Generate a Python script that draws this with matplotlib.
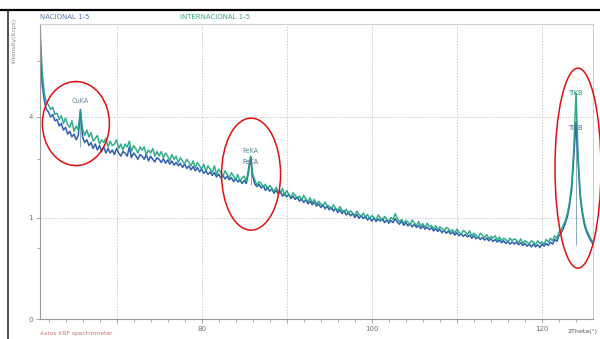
import numpy as np
import matplotlib
matplotlib.use("Agg")
import matplotlib.pyplot as plt
from matplotlib.patches import Ellipse
from matplotlib.lines import Line2D
from matplotlib.ticker import FixedLocator, FuncFormatter

# scan starts at 61 deg 2theta, one reading every 0.25 deg
TWO_THETA_START = 61.0
TWO_THETA_STEP = 0.25

# intensities (Kcps)
INTERNACIONAL = [
    8.4, 6.0, 5.0, 4.6, 4.5, 4.3, 4.4, 4.1,
    4.15, 3.9, 4.05, 3.75, 3.95, 3.7, 3.6, 3.85,
    3.45, 3.65, 3.5, 4.25, 3.55, 3.3, 3.5, 3.25,
    3.4, 3.1, 3.2, 3.3, 3.0, 3.15, 3.05, 3.2,
    2.9, 3.1, 2.95, 3.0, 3.15, 2.85, 3.0, 2.8,
    3.0, 2.9, 3.1, 2.75, 2.95, 2.85, 2.7, 2.9,
    2.8, 2.9, 2.65, 2.8, 2.7, 2.85, 2.6, 2.75,
    2.6, 2.75, 2.55, 2.7, 2.6, 2.45, 2.65, 2.5,
    2.6, 2.4, 2.55, 2.45, 2.35, 2.5, 2.4, 2.3,
    2.45, 2.25, 2.4, 2.3, 2.2, 2.35, 2.15, 2.3,
    2.2, 2.1, 2.3, 2.05, 2.2, 2.1, 2.0, 2.15,
    2.05, 1.95, 2.1, 2.0, 1.9, 2.05, 1.85, 1.95,
    2.0, 1.85, 2.2, 2.6, 2.05, 1.9, 1.75, 1.85,
    1.8, 1.7, 1.78, 1.65, 1.75, 1.68, 1.58, 1.7,
    1.6, 1.55, 1.67, 1.5, 1.62, 1.52, 1.45, 1.56,
    1.5, 1.42, 1.48, 1.38, 1.5, 1.4, 1.35, 1.44,
    1.32, 1.4, 1.28, 1.36, 1.3, 1.24, 1.34, 1.26,
    1.25, 1.18, 1.28, 1.2, 1.15, 1.24, 1.16, 1.12,
    1.18, 1.08, 1.15, 1.1, 1.05, 1.14, 1.07, 1.03,
    1.1, 1.02, 1.07, 0.99, 1.05, 1.01, 0.96, 1.06,
    1.0, 0.95, 1.03, 0.98, 0.93, 1.01, 0.97, 1.09,
    0.99, 0.93, 0.97, 0.9, 0.95, 0.92, 0.87, 0.96,
    0.9, 0.86, 0.93, 0.85, 0.89, 0.82, 0.9, 0.84,
    0.86, 0.8, 0.85, 0.79, 0.83, 0.81, 0.76, 0.82,
    0.8, 0.75, 0.78, 0.72, 0.79, 0.74, 0.7, 0.77,
    0.74, 0.7, 0.76, 0.68, 0.72, 0.69, 0.65, 0.72,
    0.69, 0.65, 0.7, 0.63, 0.67, 0.64, 0.68, 0.61,
    0.66, 0.6, 0.64, 0.62, 0.58, 0.64, 0.6, 0.63,
    0.61, 0.57, 0.63, 0.56, 0.6, 0.58, 0.55, 0.6,
    0.58, 0.54, 0.6, 0.56, 0.58, 0.55, 0.62, 0.58,
    0.64, 0.6, 0.68, 0.63, 0.74, 0.78, 0.86, 0.95,
    1.1, 1.35, 1.8, 2.9, 5.0, 2.6, 1.55, 1.15,
    0.92, 0.78, 0.7, 0.63, 0.58,
]

NACIONAL = [
    7.8, 5.4, 4.7, 4.3, 4.2, 4.0, 4.1, 3.85,
    3.9, 3.65, 3.75, 3.5, 3.6, 3.35, 3.45, 3.25,
    3.35, 3.15, 3.3, 4.3, 3.25, 3.05, 3.15, 2.95,
    3.05, 2.85, 3.0, 2.8, 2.95, 2.75, 2.9, 2.7,
    2.85, 2.7, 2.8, 2.65, 2.85, 2.7, 2.6, 2.75,
    2.7, 2.6, 2.9, 2.55, 2.7, 2.62, 2.5, 2.65,
    2.6, 2.5, 2.65, 2.45, 2.6, 2.5, 2.42, 2.55,
    2.5, 2.4, 2.52, 2.38, 2.48, 2.35, 2.45, 2.32,
    2.4, 2.3, 2.38, 2.25, 2.35, 2.22, 2.3, 2.18,
    2.28, 2.15, 2.25, 2.12, 2.2, 2.08, 2.15, 2.05,
    2.12, 2.02, 2.1, 1.98, 2.06, 1.95, 2.02, 1.92,
    2.0, 1.9, 1.96, 1.85, 1.93, 1.84, 1.9, 1.8,
    1.88, 1.8, 2.1, 2.55, 2.0, 1.78, 1.72, 1.78,
    1.68, 1.74, 1.62, 1.7, 1.6, 1.66, 1.55, 1.62,
    1.54, 1.6, 1.48, 1.55, 1.46, 1.52, 1.42, 1.48,
    1.4, 1.46, 1.36, 1.42, 1.33, 1.4, 1.3, 1.36,
    1.28, 1.34, 1.25, 1.3, 1.22, 1.28, 1.19, 1.25,
    1.17, 1.22, 1.14, 1.2, 1.11, 1.17, 1.09, 1.15,
    1.06, 1.12, 1.04, 1.09, 1.01, 1.07, 0.99, 1.05,
    0.99, 1.03, 0.96, 1.01, 0.94, 1.0, 0.93, 0.98,
    0.94, 0.99, 0.91, 0.96, 0.9, 0.95, 0.91, 0.99,
    0.92, 0.88, 0.94, 0.86, 0.91, 0.85, 0.89, 0.83,
    0.88, 0.82, 0.86, 0.8, 0.85, 0.79, 0.83, 0.78,
    0.82, 0.76, 0.8, 0.75, 0.79, 0.73, 0.77, 0.72,
    0.76, 0.71, 0.74, 0.69, 0.73, 0.68, 0.71, 0.67,
    0.7, 0.66, 0.69, 0.64, 0.68, 0.63, 0.66, 0.62,
    0.65, 0.61, 0.64, 0.6, 0.63, 0.59, 0.62, 0.58,
    0.61, 0.57, 0.6, 0.56, 0.59, 0.55, 0.58, 0.55,
    0.58, 0.54, 0.57, 0.53, 0.56, 0.52, 0.55, 0.51,
    0.55, 0.51, 0.54, 0.5, 0.55, 0.52, 0.56, 0.53,
    0.58, 0.55, 0.62, 0.59, 0.68, 0.72, 0.8, 0.9,
    1.03, 1.28, 1.65, 2.6, 3.8, 2.4, 1.45, 1.08,
    0.86, 0.74, 0.66, 0.6, 0.55,
]

PEAK_NAMES = ["CuKA", "FeKA", "TiKB"]
PEAK_2THETA = [65.75, 85.75, 124.0]
PEAK_BASE = [2.9, 1.75, 0.54]

X_TICKS = [70, 80, 90, 100, 110, 120]
X_LABELED = [80, 100, 120]
Y_TICKS = [0, 1, 4]
Y_MINOR = [0.5, 2.5, 6.5]

BLUE = "#2f5fae"
GREEN = "#1fa382"
GRAY = "#8a8a8a"


def fwd(v):
    return np.sqrt(np.clip(v, 0, None))


def inv(v):
    return np.square(v)


two_theta = TWO_THETA_START + TWO_THETA_STEP * np.arange(len(NACIONAL))
nac = np.array(NACIONAL)
inter = np.array(INTERNACIONAL)

fig = plt.figure(figsize=(6, 3.39), dpi=100)
ax = fig.add_axes([40 / 600, 1 - 319 / 339, 553 / 600, 295 / 339])
ax.set_yscale("function", functions=(fwd, inv))

ax.plot(two_theta, nac, color=BLUE, lw=1.1)
ax.plot(two_theta, inter, color=GREEN, lw=1.1, alpha=0.9)

ax.set_xlim(61.0, 126.0)
ax.set_ylim(0, 8.53)

ax.xaxis.set_major_locator(FixedLocator(X_TICKS))
ax.xaxis.set_minor_locator(FixedLocator(np.arange(62, 126, 2)))
ax.xaxis.set_major_formatter(FuncFormatter(lambda v, p: "%d" % v if int(round(v)) in X_LABELED else ""))
ax.yaxis.set_major_locator(FixedLocator(Y_TICKS))
ax.yaxis.set_minor_locator(FixedLocator(Y_MINOR))
ax.yaxis.set_major_formatter(FuncFormatter(lambda v, p: "%d" % v))
ax.tick_params(which="both", colors="#9a9a9a", labelcolor="#707070", labelsize=5, length=3, width=0.6, pad=2)
ax.tick_params(which="minor", length=2)

for xv in X_TICKS:
    ax.axvline(xv, color="#c8c8c8", lw=0.7, ls=(0, (1.5, 1.5)), zorder=0)
for yv in Y_TICKS[1:]:
    ax.axhline(yv, color="#c8c8c8", lw=0.7, ls=(0, (1.5, 1.5)), zorder=0)

for side in ["top", "right"]:
    ax.spines[side].set_color("#cfcfcf")
for side in ["left", "bottom"]:
    ax.spines[side].set_color("#9a9a9a")
for sp in ax.spines.values():
    sp.set_linewidth(0.8)

# peak markers and labels
for name, px, base in zip(PEAK_NAMES, PEAK_2THETA, PEAK_BASE):
    i = int(round((px - TWO_THETA_START) / TWO_THETA_STEP))
    top_g, top_b = inter[i], nac[i]
    ax.vlines(px, base, max(top_g, top_b), color="#5f8aa0", lw=0.5, zorder=1)
    if name == "CuKA":
        ax.annotate(name, (px, max(top_g, top_b)), xytext=(0, 6), textcoords="offset points",
                    ha="center", va="center", fontsize=4.8, color="#6a86a6")
    elif name == "FeKA":
        ax.annotate(name, (px, top_g), xytext=(0, 4), textcoords="offset points",
                    ha="center", va="center", fontsize=4.8, color="#4f8f98")
        ax.annotate(name, (px, top_b), xytext=(0, -3), textcoords="offset points",
                    ha="center", va="center", fontsize=4.8, color="#4a6f98")
    else:
        ax.annotate(name, (px, top_g), xytext=(0, 0), textcoords="offset points",
                    ha="center", va="center", fontsize=4.8, color="#2a9a80")
        ax.annotate(name, (px, top_b), xytext=(0, -4), textcoords="offset points",
                    ha="center", va="center", fontsize=4.8, color="#4a6f88")

# red circles around the peaks (pixel offsets / sizes as in the scan)
ellipse_geo = [(-4.5, -14, 67, 84), (0.5, -18, 59, 112), (2, -75, 46, 200)]
to_fig = fig.transFigure.inverted()
for px, (dx, dy, w, h) in zip(PEAK_2THETA, ellipse_geo):
    i = int(round((px - TWO_THETA_START) / TWO_THETA_STEP))
    disp = ax.transData.transform((px, max(inter[i], nac[i])))
    cx, cy = to_fig.transform((disp[0] + dx, disp[1] + dy))
    fig.add_artist(Ellipse((cx, cy), w / 600, h / 339, transform=fig.transFigure,
                           fill=False, edgecolor="#e01010", lw=1.1, zorder=5))

# header / footer text
fig.text(40 / 600, 1 - 17 / 339, "NACIONAL 1-5", fontsize=5, color="#5a78a8", va="center")
fig.text(180 / 600, 1 - 17 / 339, "INTERNACIONAL 1-5", fontsize=5, color="#3aa88a", va="center")
fig.text(14 / 600, 1 - 40 / 339, "Intensity(Kcps)", fontsize=4.3, color=GRAY, rotation=90,
         ha="center", va="center")
fig.text(40 / 600, 1 - 333 / 339, "Axios XRF spectrometer", fontsize=4.3, color="#d07070", va="center")
fig.text(598 / 600, 1 - 332 / 339, "2Theta(°)", fontsize=4.5, color="#555555", ha="right", va="center")

# scan frame lines
fig.add_artist(Line2D([0, 1], [1 - 10 / 339] * 2, color="black", lw=1.6, transform=fig.transFigure))
fig.add_artist(Line2D([8 / 600] * 2, [0, 1 - 10 / 339], color="#222222", lw=1.1, transform=fig.transFigure))

fig.savefig("out.png", dpi=100, facecolor="white")
